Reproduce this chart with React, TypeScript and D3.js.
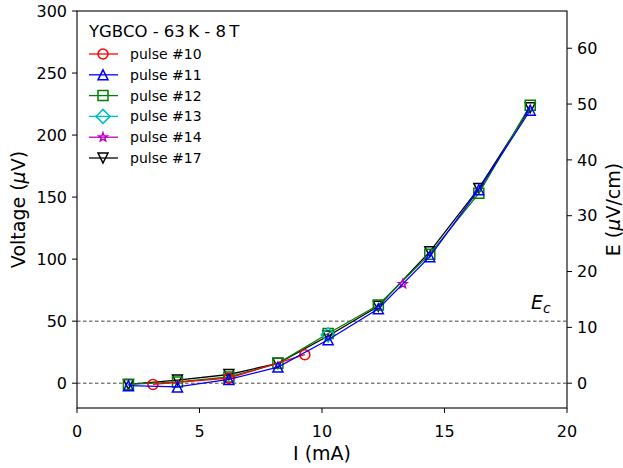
import React from 'react';
import * as d3 from 'd3';

// ---------- data ----------
const currentMain = [2.1, 4.1, 6.2, 8.2, 10.25, 12.3, 14.4, 16.4, 18.5];
const pulse11V = [-2, -3, 3, 13, 35, 60, 102, 156, 220];
const pulse12V = [-1, 1, 5, 16, 40, 63, 104, 153, 224];
const pulse17V = [-1, 2.5, 7, 16, 38, 62, 106, 157, 222];
const pulse10I = [3.1, 6.2, 9.3];
const pulse10V = [-1, 4, 23];
const pulse13I = [10.25];
const pulse13V = [39];
const pulse14I = [13.3];
const pulse14V = [80];

const xTicks = [0, 5, 10, 15, 20];
const yTicks = [0, 50, 100, 150, 200, 250, 300];
const eTicks = [0, 10, 20, 30, 40, 50, 60];
const refLines = [0, 50];
const legendTitle = 'YGBCO - 63\u2009K - 8\u2009T';

type Series = { name: string; I: number[]; V: number[]; color: string; marker: string };
const series: Series[] = [
  { name: 'pulse #10', I: pulse10I, V: pulse10V, color: '#ff0000', marker: 'circle' },
  { name: 'pulse #11', I: currentMain, V: pulse11V, color: '#0000ff', marker: 'triUp' },
  { name: 'pulse #12', I: currentMain, V: pulse12V, color: '#008000', marker: 'square' },
  { name: 'pulse #13', I: pulse13I, V: pulse13V, color: '#00bfbf', marker: 'diamond' },
  { name: 'pulse #14', I: pulse14I, V: pulse14V, color: '#bf00bf', marker: 'star' },
  { name: 'pulse #17', I: currentMain, V: pulse17V, color: '#000000', marker: 'triDown' },
];
const drawOrder = ['pulse #17', 'pulse #12', 'pulse #13', 'pulse #14', 'pulse #10', 'pulse #11'];

// ---------- layout ----------
const W = 623, H = 468;
const L = 77, R = 567, T = 11, B = 408;
const FONT = 'DejaVu Sans, sans-serif';

const x = d3.scaleLinear().domain([0, 20]).range([L, R]);
const y = d3.scaleLinear().domain([-20, 300]).range([B, T]);
const yE = d3.scaleLinear().domain([-20 / 4.5, 300 / 4.5]).range([B, T]);

function markerPath(m: string): string {
  const s = 5;
  switch (m) {
    case 'circle':
      return `M${s},0A${s},${s} 0 1,1 ${-s},0A${s},${s} 0 1,1 ${s},0Z`;
    case 'square':
      return `M${-s},${-s}L${s},${-s}L${s},${s}L${-s},${s}Z`;
    case 'triUp':
      return `M0,${-s}L${s},${s}L${-s},${s}Z`;
    case 'triDown':
      return `M0,${s}L${s},${-s}L${-s},${-s}Z`;
    case 'diamond': {
      const d = 7;
      return `M0,${-d}L${d},0L0,${d}L${-d},0Z`;
    }
    case 'star': {
      const pts: string[] = [];
      const ro = 4.5, ri = 1.9;
      for (let i = 0; i < 10; i++) {
        const r = i % 2 === 0 ? ro : ri;
        const a = -Math.PI / 2 + (i * Math.PI) / 5;
        pts.push(`${(r * Math.cos(a)).toFixed(2)},${(r * Math.sin(a)).toFixed(2)}`);
      }
      return 'M' + pts.join('L') + 'Z';
    }
  }
  return '';
}

export default function App() {
  const line = d3
    .line<[number, number]>()
    .x((d) => x(d[0]))
    .y((d) => y(d[1]));

  const ordered = drawOrder.map((n) => series.find((s) => s.name === n)!);

  return (
    <svg
      width={W}
      height={H}
      style={{ position: 'absolute', left: 0, top: 0, background: '#fff' }}
      fontFamily={FONT}
    >
      <rect x={0} y={0} width={W} height={H} fill="#fff" />
      <defs>
        <clipPath id="plotclip">
          <rect x={L} y={T} width={R - L} height={B - T} />
        </clipPath>
      </defs>

      {/* reference dashed lines */}
      {refLines.map((v) => (
        <line
          key={v}
          x1={L}
          x2={R}
          y1={y(v)}
          y2={y(v)}
          stroke="#444"
          strokeWidth={1}
          strokeDasharray="3.5,2.5"
        />
      ))}
      <text x={531} y={309} fontSize={19} fontStyle="italic" fill="#000">
        E
        <tspan fontSize={14} dy={4}>
          c
        </tspan>
      </text>

      {/* series */}
      <g clipPath="url(#plotclip)">
        {ordered.map((s) => {
          const pts = s.I.map((v, i) => [v, s.V[i]] as [number, number]);
          return (
            <g key={s.name}>
              <path d={line(pts) || ''} fill="none" stroke={s.color} strokeWidth={1.3} />
              {pts.map((p, i) => (
                <path
                  key={i}
                  d={markerPath(s.marker)}
                  transform={`translate(${x(p[0])},${y(p[1])})`}
                  fill="none"
                  stroke={s.color}
                  strokeWidth={1.5}
                />
              ))}
            </g>
          );
        })}
      </g>

      {/* frame */}
      <rect x={L} y={T} width={R - L} height={B - T} fill="none" stroke="#000" strokeWidth={1.1} />

      {/* x axis */}
      {xTicks.map((t) => (
        <g key={t}>
          <line x1={x(t)} x2={x(t)} y1={B} y2={B + 5} stroke="#000" strokeWidth={1} />
          <text x={x(t)} y={437} fontSize={16} textAnchor="middle" fill="#000">
            {t}
          </text>
        </g>
      ))}
      <text x={(L + R) / 2} y={460} fontSize={19} textAnchor="middle" fill="#000">
        I (mA)
      </text>

      {/* left y axis */}
      {yTicks.map((t) => (
        <g key={t}>
          <line x1={L - 5} x2={L} y1={y(t)} y2={y(t)} stroke="#000" strokeWidth={1} />
          <text x={67} y={y(t)} dy="0.36em" fontSize={16} textAnchor="end" fill="#000">
            {t}
          </text>
        </g>
      ))}
      <text
        transform={`translate(25,${(T + B) / 2}) rotate(-90)`}
        fontSize={19}
        textAnchor="middle"
        fill="#000"
      >
        Voltage (<tspan fontStyle="italic">µ</tspan>V)
      </text>

      {/* right y axis */}
      {eTicks.map((t) => (
        <g key={t}>
          <line x1={R} x2={R + 5} y1={yE(t)} y2={yE(t)} stroke="#000" strokeWidth={1} />
          <text x={577} y={yE(t)} dy="0.36em" fontSize={16} textAnchor="start" fill="#000">
            {t}
          </text>
        </g>
      ))}
      <text
        transform={`translate(620,${(T + B) / 2}) rotate(-90)`}
        fontSize={19}
        textAnchor="middle"
        fill="#000"
      >
        E (<tspan fontStyle="italic">µ</tspan>V/cm)
      </text>

      {/* legend */}
      <text x={89} y={37} fontSize={16.5} fill="#000">
        {legendTitle}
      </text>
      {series.map((s, i) => {
        const cy = 54 + i * 20.8;
        return (
          <g key={s.name}>
            <line x1={89} x2={118} y1={cy} y2={cy} stroke={s.color} strokeWidth={1.3} />
            <path
              d={markerPath(s.marker)}
              transform={`translate(103,${cy})`}
              fill="none"
              stroke={s.color}
              strokeWidth={1.5}
            />
            <text x={130} y={cy} dy="0.36em" fontSize={14} fill="#000">
              {s.name}
            </text>
          </g>
        );
      })}
    </svg>
  );
}
